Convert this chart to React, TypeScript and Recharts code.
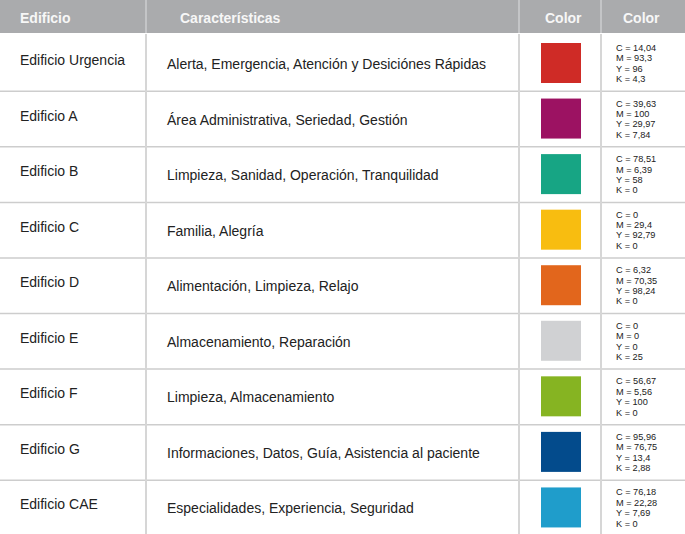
import React from "react";
import { BarChart, Bar, XAxis, YAxis, Customized } from "recharts";

const headers = ["Edificio", "Características", "Color", "Color"];
const buildings = [
  "Edificio Urgencia",
  "Edificio A",
  "Edificio B",
  "Edificio C",
  "Edificio D",
  "Edificio E",
  "Edificio F",
  "Edificio G",
  "Edificio CAE",
];
const characteristics = [
  "Alerta, Emergencia, Atención y Desiciónes Rápidas",
  "Área Administrativa, Seriedad, Gestión",
  "Limpieza, Sanidad, Operación, Tranquilidad",
  "Familia, Alegría",
  "Alimentación, Limpieza, Relajo",
  "Almacenamiento, Reparación",
  "Limpieza, Almacenamiento",
  "Informaciones, Datos, Guía, Asistencia al paciente",
  "Especialidades, Experiencia, Seguridad",
];
const swatchColors = [
  "#cf2b26",
  "#9c1262",
  "#17a584",
  "#f8bd10",
  "#e2661c",
  "#d0d1d3",
  "#86b422",
  "#034b8c",
  "#1f9dcb",
];
const cyanValues = ["14,04", "39,63", "78,51", "0", "6,32", "0", "56,67", "95,96", "76,18"];
const magentaValues = ["93,3", "100", "6,39", "29,4", "70,35", "0", "5,56", "76,75", "22,28"];
const yellowValues = ["96", "29,97", "58", "92,79", "98,24", "0", "100", "13,4", "7,69"];
const blackValues = ["4,3", "7,84", "0", "0", "0", "25", "0", "2,88", "0"];

const rows = buildings.map((name, i) => ({
  name,
  chars: characteristics[i],
  color: swatchColors[i],
  c: cyanValues[i],
  m: magentaValues[i],
  y: yellowValues[i],
  k: blackValues[i],
  span: 1,
}));

const FONT = "'Liberation Sans', Arial, Helvetica, sans-serif";
const COL1 = 146;
const COL2 = 519;
const COL3 = 601;
const LINE = "#d6d6d6";
const TEXT = "#222222";
const HEADER_H = 34;

const RowShape = (props: any) => {
  const { x, y, width, height, index, payload } = props;
  const last = index === rows.length - 1;
  const sw = 40;
  const swX = x + (COL2 + COL3) / 2 - sw / 2 + 1;
  const swY = y + (height - sw) / 2 + 1;
  return (
    <g>
      <line x1={x + COL1} x2={x + COL1} y1={y} y2={y + height} stroke={LINE} strokeWidth={2} />
      <line x1={x + COL2} x2={x + COL2} y1={y} y2={y + height} stroke={LINE} strokeWidth={2} />
      <line x1={x + COL3} x2={x + COL3} y1={y} y2={y + height} stroke={LINE} strokeWidth={2} />
      {!last && (
        <line x1={x} x2={x + width} y1={y + height + 1.3} y2={y + height + 1.3} stroke="#cdcdcd" strokeWidth={1.5} />
      )}
      <text x={x + 20} y={y + 31} fontSize={14} fill={TEXT} fontFamily={FONT}>
        {payload.name}
      </text>
      <text x={x + 167} y={y + 35} fontSize={14} fill={TEXT} fontFamily={FONT}>
        {payload.chars}
      </text>
      <rect x={swX} y={swY} width={sw} height={sw} fill={payload.color} />
      {[`C = ${payload.c}`, `M = ${payload.m}`, `Y = ${payload.y}`, `K = ${payload.k}`].map((t, j) => (
        <text key={j} x={x + 616} y={y + 17 + j * 10.4} fontSize={9.2} fill={TEXT} fontFamily={FONT}>
          {t}
        </text>
      ))}
    </g>
  );
};

const Header = (props: any) => {
  const w = props.width ?? 685;
  const xs = [20, 180, 545, 623];
  return (
    <g>
      <rect x={0} y={0} width={w} height={HEADER_H - 1} fill="#aaabad" />
      <line x1={COL1} x2={COL1} y1={0} y2={HEADER_H - 1} stroke="#c4c5c7" strokeWidth={2} />
      <line x1={COL2} x2={COL2} y1={0} y2={HEADER_H - 1} stroke="#c4c5c7" strokeWidth={2} />
      <line x1={COL3} x2={COL3} y1={0} y2={HEADER_H - 1} stroke="#c4c5c7" strokeWidth={2} />
      {headers.map((h, i) => (
        <text key={i} x={xs[i]} y={22.5} fontSize={14} fontWeight="bold" fill="#f7f7f7" fontFamily={FONT}>
          {h}
        </text>
      ))}
    </g>
  );
};

export default function App() {
  return (
    <div style={{ width: 685, height: 534, background: "#ffffff" }}>
      <style>{"html,body{margin:0;padding:0;background:#ffffff;}"}</style>
      <BarChart
        width={685}
        height={534}
        data={rows}
        layout="vertical"
        margin={{ top: HEADER_H, right: 0, bottom: 0, left: 0 }}
        barCategoryGap={0}
        barGap={0}
      >
        <XAxis type="number" domain={[0, 1]} hide />
        <YAxis type="category" dataKey="name" hide width={0} />
        <Bar dataKey="span" isAnimationActive={false} shape={<RowShape />} />
        <Customized component={<Header />} />
      </BarChart>
    </div>
  );
}
